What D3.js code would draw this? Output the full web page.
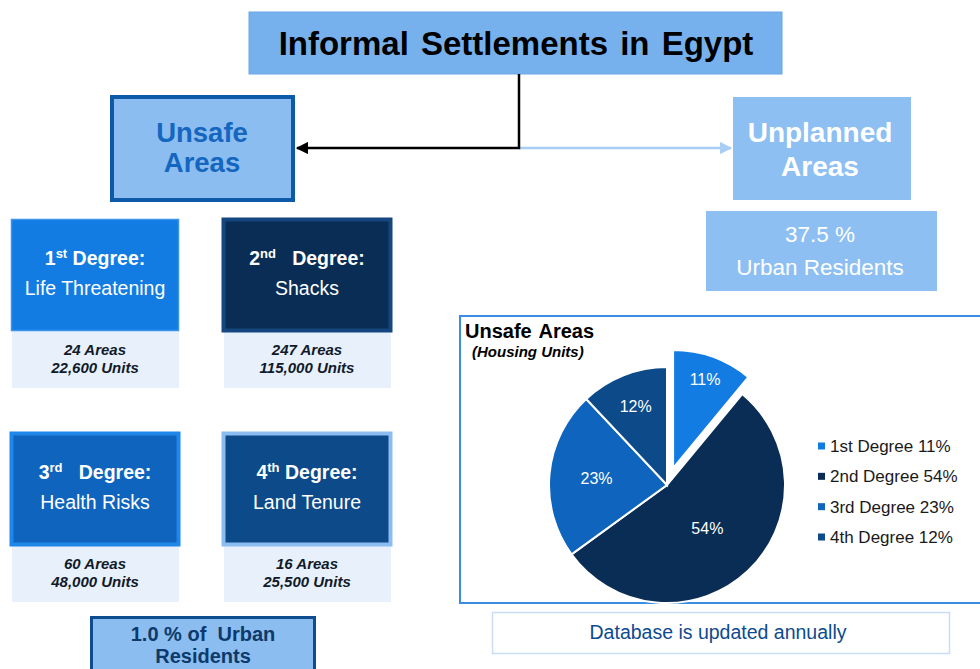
<!DOCTYPE html>
<html>
<head>
<meta charset="utf-8">
<script src="https://cdn.jsdelivr.net/npm/d3@7"></script>
<style>
  body { margin: 0; background: #fff; }
  svg { display: block; font-family: "Liberation Sans", Arial, sans-serif; }
</style>
</head>
<body>
<div id="chart"></div>
<script>
// data
const degrees = ["1st", "2nd", "3rd", "4th"];
const degreeSup = ["st", "nd", "rd", "th"];
const degreeNames = ["Life Threatening", "Shacks", "Health Risks", "Land Tenure"];
const areaCounts = [24, 247, 60, 16];
const unitCounts = [22600, 115000, 48000, 25500];
const unitShares = [11, 54, 23, 12];
const unsafeShare = "1.0";
const unplannedShare = "37.5";

const fills = ["#127ce3", "#0a2d55", "#0f65bd", "#0c4a89"];
const borders = ["#3b93ea", "#15467f", "#1f86ea", "#8cbcf0"];

const width = 980, height = 669;
const svg = d3.select("#chart").append("svg")
  .attr("width", width).attr("height", height);

const defs = svg.append("defs");
function marker(id, color) {
  defs.append("marker")
    .attr("id", id).attr("viewBox", "0 0 10 10")
    .attr("refX", 9).attr("refY", 5)
    .attr("markerWidth", 5).attr("markerHeight", 5)
    .attr("orient", "auto")
    .append("path").attr("d", "M0,0 L10,5 L0,10 z").attr("fill", color);
}
marker("arrBlack", "#000");
marker("arrLight", "#a9cef5");

// title box
svg.append("rect").attr("x", 249).attr("y", 12).attr("width", 533).attr("height", 62)
  .attr("fill", "#76b1ee").attr("stroke", "#6aa6e6").attr("stroke-width", 1);
svg.append("text").attr("x", 516).attr("y", 55).attr("text-anchor", "middle")
  .attr("font-size", 33).attr("font-weight", "bold").attr("fill", "#000")
  .attr("word-spacing", 3)
  .text("Informal Settlements in Egypt");

// connectors
svg.append("path").attr("d", "M519,148 L731,148")
  .attr("stroke", "#a9cef5").attr("stroke-width", 2.5).attr("fill", "none")
  .attr("marker-end", "url(#arrLight)");
svg.append("path").attr("d", "M519,74 L519,148 L297,148")
  .attr("stroke", "#000").attr("stroke-width", 2.5).attr("fill", "none")
  .attr("marker-end", "url(#arrBlack)");

// unsafe areas box
svg.append("rect").attr("x", 112).attr("y", 97).attr("width", 181).attr("height", 103)
  .attr("fill", "#8bbdf0").attr("stroke", "#0d5aa8").attr("stroke-width", 4);
svg.append("text").attr("x", 202).attr("y", 142).attr("text-anchor", "middle")
  .attr("font-size", 27.5).attr("font-weight", "bold").attr("fill", "#1466bf")
  .selectAll("tspan").data(["Unsafe", "Areas"]).join("tspan")
  .attr("x", 202).attr("dy", (d, i) => i ? 30 : 0).text(d => d);

// unplanned areas
svg.append("rect").attr("x", 733).attr("y", 97).attr("width", 178).attr("height", 103)
  .attr("fill", "#8dbff2");
svg.append("text").attr("x", 820).attr("y", 142).attr("text-anchor", "middle")
  .attr("font-size", 28).attr("font-weight", "bold").attr("fill", "#fff")
  .selectAll("tspan").data(["Unplanned", "Areas"]).join("tspan")
  .attr("x", 820).attr("dy", (d, i) => i ? 34 : 0).text(d => d);
svg.append("rect").attr("x", 706).attr("y", 211).attr("width", 231).attr("height", 80)
  .attr("fill", "#8dbff2");
svg.append("text").attr("text-anchor", "middle").attr("font-size", 22.5).attr("fill", "#fff")
  .selectAll("tspan").data([unplannedShare + " %", "Urban Residents"]).join("tspan")
  .attr("x", 820).attr("y", (d, i) => i ? 275 : 242).text(d => d);

// degree boxes (2x2 grid)
const col = d3.scaleOrdinal().domain([0, 1]).range([10, 222]);
const row = d3.scaleOrdinal().domain([0, 1]).range([218, 432]);
const fmt = d3.format(",");

const g = svg.selectAll("g.deg").data(degrees).join("g").attr("class", "deg")
  .attr("transform", (d, i) => `translate(${col(i % 2)},${row(Math.floor(i / 2))})`);

g.append("rect").attr("x", 2).attr("y", 112).attr("width", 167).attr("height", 58)
  .attr("fill", "#e8f1fb");
g.append("rect").attr("x", 1.5).attr("y", 1.5).attr("width", 167).attr("height", 111)
  .attr("fill", (d, i) => fills[i]).attr("stroke", (d, i) => borders[i])
  .attr("stroke-width", (d, i) => i ? 4 : 1.5);

const head = g.append("text").attr("x", 85).attr("y", 47).attr("text-anchor", "middle")
  .attr("font-size", 19.5).attr("font-weight", "bold").attr("fill", "#fff");
head.append("tspan").text(d => d[0]);
head.append("tspan").attr("font-size", 13).attr("dy", -7).text((d, i) => degreeSup[i]);
head.append("tspan").attr("dy", 7).attr("xml:space", "preserve")
  .text((d, i) => i === 0 || i === 3 ? " Degree:" : "   Degree:");

g.append("text").attr("x", 85).attr("y", 77).attr("text-anchor", "middle")
  .attr("font-size", 19.5).attr("fill", "#fff").text((d, i) => degreeNames[i]);

g.append("text").attr("text-anchor", "middle").attr("font-size", 15)
  .attr("font-weight", "bold").attr("font-style", "italic").attr("fill", "#111a2a")
  .selectAll("tspan").data((d, i) => [areaCounts[i] + " Areas", fmt(unitCounts[i]) + " Units"])
  .join("tspan").attr("x", 85).attr("y", (d, i) => i ? 155 : 137).text(d => d);

// unsafe share box
svg.append("rect").attr("x", 91.5).attr("y", 617.5).attr("width", 223).attr("height", 60)
  .attr("fill", "#8bbdf0").attr("stroke", "#0d4c8f").attr("stroke-width", 3);
svg.append("text").attr("text-anchor", "middle").attr("font-size", 20)
  .attr("font-weight", "bold").attr("fill", "#0d3a6a")
  .selectAll("tspan").data([unsafeShare + " % of  Urban", "Residents"]).join("tspan")
  .attr("x", 203).attr("y", (d, i) => i ? 663 : 641).attr("xml:space", "preserve").text(d => d);

// pie panel
svg.append("rect").attr("x", 460).attr("y", 316).attr("width", 530).attr("height", 287)
  .attr("fill", "#fff").attr("stroke", "#3a8de0").attr("stroke-width", 2);
svg.append("text").attr("x", 465).attr("y", 338).attr("font-size", 20)
  .attr("font-weight", "bold").attr("fill", "#000").attr("word-spacing", 2).text("Unsafe Areas");
svg.append("text").attr("x", 472).attr("y", 357).attr("font-size", 15)
  .attr("font-weight", "bold").attr("font-style", "italic").attr("fill", "#000")
  .text("(Housing Units)");

const cx = 667, cy = 485, r = 118;
const pie = d3.pie().sort(null).value(d => d)(unitShares);
const arc = d3.arc().innerRadius(0).outerRadius(r);
const pg = svg.append("g").attr("transform", `translate(${cx},${cy})`);
const explode = [18, 0, 0, 0];
const labelPos = [0.8, 0.5, 0.6, 0.72];
const dir = d => {
  const a = (d.startAngle + d.endAngle) / 2;
  return [Math.sin(a), -Math.cos(a)];
};
pg.selectAll("path").data(pie).join("path")
  .attr("d", arc)
  .attr("transform", (d, i) => `translate(${dir(d).map(v => v * explode[i])})`)
  .attr("fill", (d, i) => fills[i]).attr("stroke", "#fff").attr("stroke-width", 2);

pg.selectAll("text").data(pie).join("text")
  .attr("transform", (d, i) => {
    const k = explode[i] + labelPos[i] * r;
    return `translate(${dir(d).map(v => v * k)})`;
  })
  .attr("text-anchor", "middle").attr("dy", "0.35em")
  .attr("font-size", 16).attr("fill", "#fff")
  .text(d => d.data + "%");

// legend
const ly = d3.scalePoint().domain(d3.range(4)).range([446, 537]);
const lg = svg.selectAll("g.leg").data(degrees).join("g").attr("class", "leg")
  .attr("transform", (d, i) => `translate(818,${ly(i)})`);
lg.append("rect").attr("x", 0).attr("y", -3.5).attr("width", 7).attr("height", 7)
  .attr("fill", (d, i) => fills[i]);
lg.append("text").attr("x", 12).attr("dy", "0.35em").attr("font-size", 17)
  .attr("fill", "#1a1a1a").text((d, i) => `${d} Degree ${unitShares[i]}%`);

// footnote
svg.append("rect").attr("x", 492.5).attr("y", 612.5).attr("width", 457).attr("height", 41)
  .attr("fill", "#fff").attr("stroke", "#c8def6").attr("stroke-width", 1.5);
svg.append("text").attr("x", 718).attr("y", 639).attr("text-anchor", "middle")
  .attr("font-size", 19.5).attr("fill", "#0d4a8f").text("Database is updated annually");
</script>
</body>
</html>
